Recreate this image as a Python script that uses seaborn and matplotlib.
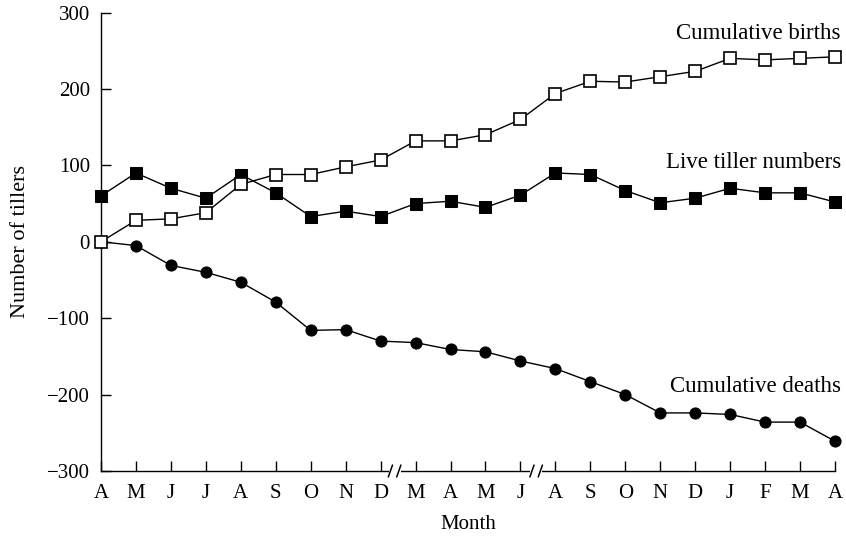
import matplotlib
matplotlib.use("Agg")
import matplotlib.pyplot as plt
import seaborn as sns
import numpy as np
import pandas as pd

# Sampling months (two growing seasons, with gaps after D and after J)
months = ["A", "M", "J", "J", "A", "S", "O", "N", "D", "M", "A",
          "M", "J", "A", "S", "O", "N", "D", "J", "F", "M", "A"]

cumulative_births = [0, 28, 30, 38, 75, 88, 88, 98, 107, 132, 132,
                     140, 160, 194, 210, 209, 216, 223, 240, 238, 240, 242]
live_tillers = [60, 90, 70, 57, 88, 64, 33, 40, 33, 50, 53,
                45, 61, 90, 88, 67, 51, 57, 70, 64, 64, 52]
cumulative_deaths = [0, -5, -31, -40, -53, -79, -116, -115, -130, -132, -141,
                     -144, -156, -166, -183, -200, -224, -224, -226, -236, -236, -261]

series_labels = ["Cumulative births", "Live tiller numbers", "Cumulative deaths"]
y_ticks = [-300, -200, -100, 0, 100, 200, 300]
break_positions = [8.4, 12.45]

sns.set_theme(style="ticks")
plt.rcParams["font.family"] = ["Liberation Serif", "DejaVu Serif"]

idx = np.arange(len(months))
df = pd.DataFrame({
    "month_idx": np.tile(idx, 3),
    "value": cumulative_births + live_tillers + cumulative_deaths,
    "series": np.repeat(series_labels, len(months)),
})

fig = plt.figure(figsize=(8.46, 5.38), dpi=100)
ax = fig.add_axes([101 / 846, 1 - 471 / 538, 734 / 846, 458.5 / 538])

styles = {
    "Cumulative deaths": dict(marker="o", markersize=8, markerfacecolor="black",
                              markeredgecolor="black", zorder=3),
    "Live tiller numbers": dict(marker="s", markersize=8.5, markerfacecolor="black",
                                markeredgecolor="black", zorder=4),
    "Cumulative births": dict(marker="s", markersize=8, markerfacecolor="white",
                              markeredgecolor="black", markeredgewidth=1.2, zorder=5),
}
for name in ["Cumulative deaths", "Live tiller numbers", "Cumulative births"]:
    sub = df[df["series"] == name]
    sns.lineplot(data=sub, x="month_idx", y="value", color="black", linewidth=1.0,
                 ax=ax, legend=False, clip_on=False, **styles[name])

ax.set_xlim(0, len(months) - 1)
ax.set_ylim(-300, 300)
ax.set_xticks(idx)
ax.set_xticklabels(months)
ax.set_yticks(y_ticks)
ax.set_yticklabels([f"\u2212{abs(t)}" if t < 0 else str(t) for t in y_ticks])
ax.tick_params(axis="both", direction="in", length=7, width=1.0, color="black",
               labelsize=15, labelcolor="black")
ax.tick_params(axis="y", pad=8)
ax.tick_params(axis="x", pad=9)

for side in ["top", "right"]:
    ax.spines[side].set_visible(False)
for side in ["left", "bottom"]:
    ax.spines[side].set_color("black")
    ax.spines[side].set_linewidth(1.0)

ax.set_xlabel("Month", fontsize=15, color="black", labelpad=9)
ax.set_ylabel("Number of tillers", fontsize=16, color="black", labelpad=12)

# axis break marks on the month axis
trans = ax.get_xaxis_transform()
for bx in break_positions:
    ax.add_patch(plt.Rectangle((bx - 0.17, -0.008), 0.34, 0.016, transform=trans,
                               facecolor="white", edgecolor="none", clip_on=False, zorder=6))
    for off in (-0.12, 0.12):
        ax.plot([bx + off - 0.06, bx + off + 0.06], [-0.013, 0.013], transform=trans,
                color="black", linewidth=1.1, clip_on=False, zorder=7)

# series labels at the right end of each curve
label_y = {"Cumulative births": 272, "Live tiller numbers": 104, "Cumulative deaths": -190}
for name in series_labels:
    ax.text(21.17, label_y[name], name, ha="right", va="center", fontsize=16.5, color="black")

fig.savefig("out.png", dpi=100)
